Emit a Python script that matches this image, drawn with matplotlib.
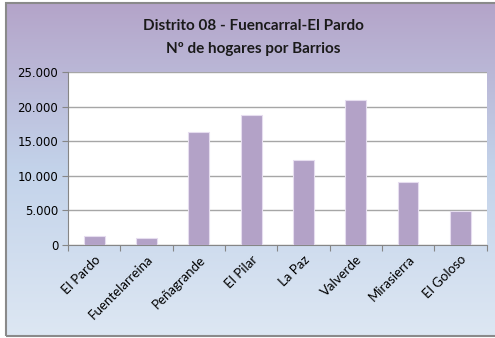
import numpy as np
import matplotlib.pyplot as plt
from matplotlib.colors import LinearSegmentedColormap
from matplotlib.patches import Rectangle
from matplotlib.ticker import FuncFormatter

barrios = ['El Pardo', 'Fuentelarreina', 'Peñagrande', 'El Pilar',
           'La Paz', 'Valverde', 'Mirasierra', 'El Goloso']
hogares = [1300, 1000, 16400, 18850, 12260, 21000, 9090, 4950]
yticks = [0, 5000, 10000, 15000, 20000, 25000]

fig = plt.figure(figsize=(4.95, 3.38), dpi=100)
fig.patch.set_facecolor('white')

# chart area with vertical gradient fill
bg = fig.add_axes([6 / 495, 2 / 338, 1.1, 333 / 338])
cmap = LinearSegmentedColormap.from_list(
    'fondo', ['#dde7f3', '#c3d3ea', '#b4a4c9'])
grad = np.linspace(0, 1, 256).reshape(-1, 1)
bg.imshow(grad, aspect='auto', cmap=cmap, origin='lower',
          extent=[0, 1, 0, 1])
bg.set_xlim(0, 1)
bg.set_ylim(0, 1)
bg.axis('off')
fig.add_artist(Rectangle((6 / 495, 2 / 338), 1.1, 333 / 338,
                         transform=fig.transFigure, fill=False,
                         edgecolor='#8a8a8a', linewidth=1.5, zorder=5))

fig.text(253 / 495, 1 - 26 / 338, 'Distrito 08 - Fuencarral-El Pardo',
         ha='center', va='center', fontsize=11, fontweight='bold',
         family='Lato', color='#1a1a1a')
fig.text(253 / 495, 1 - 49 / 338, 'Nº de hogares por Barrios',
         ha='center', va='center', fontsize=11, fontweight='bold',
         family='Lato', color='#1a1a1a')

ax = fig.add_axes([68 / 495, 1 - 245 / 338, 418.5 / 495, 173 / 338])
ax.set_facecolor('white')
x = np.arange(len(barrios))
ax.bar(x, hogares, width=0.4, color='#b3a2c7', edgecolor='#e6ddef',
       linewidth=0.8, zorder=3)

ax.set_xlim(-0.5, len(barrios) - 0.5)
ax.set_ylim(0, 25000)
ax.set_yticks(yticks)
ax.yaxis.set_major_formatter(
    FuncFormatter(lambda v, p: f'{int(v):,}'.replace(',', '.')))
ax.grid(axis='y', color='#a6a6a6', linewidth=1, zorder=0)

ax.set_xticks(np.arange(len(barrios) + 1) - 0.5, minor=False)
ax.set_xticklabels([])
ax.set_xticks(x, minor=True)
ax.set_xticklabels(barrios, minor=True, rotation=45, ha='right',
                   rotation_mode='anchor', fontsize=9.5, family='Lato')
ax.tick_params(axis='x', which='minor', length=0, pad=6)
ax.tick_params(axis='x', which='major', length=4, color='#868686')
ax.tick_params(axis='y', length=4, color='#868686', labelsize=8.5,
               pad=3)
for lbl in ax.get_yticklabels():
    lbl.set_family('DejaVu Sans')

for side in ['top', 'right']:
    ax.spines[side].set_visible(False)
for side in ['left', 'bottom']:
    ax.spines[side].set_color('#868686')

fig.savefig('out.png', dpi=100)
